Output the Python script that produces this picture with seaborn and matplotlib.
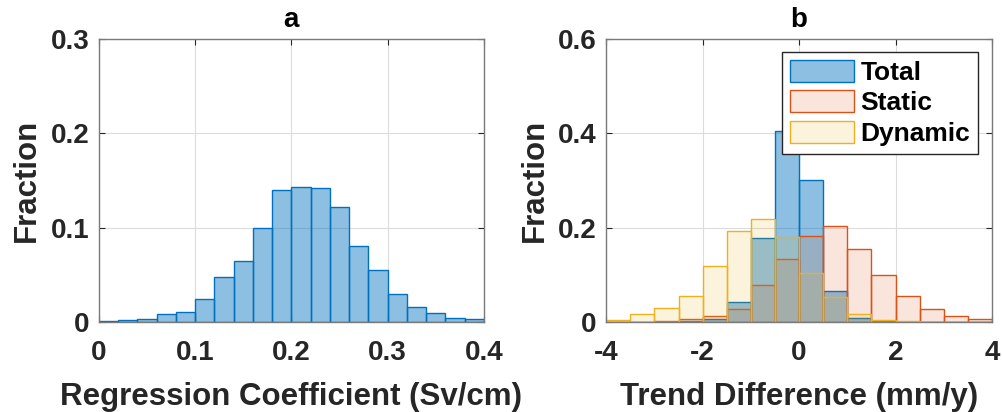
import numpy as np
import pandas as pd
import matplotlib
matplotlib.use("Agg")
import matplotlib.pyplot as plt
import seaborn as sns

# ---- data ----
coef_edges = [0.00, 0.02, 0.04, 0.06, 0.08, 0.10, 0.12, 0.14, 0.16, 0.18, 0.20,
              0.22, 0.24, 0.26, 0.28, 0.30, 0.32, 0.34, 0.36, 0.38, 0.40]
coef_frac = [0.001, 0.0014, 0.0025, 0.008, 0.0099, 0.0244, 0.048, 0.065, 0.100, 0.140,
             0.143, 0.142, 0.122, 0.0806, 0.055, 0.0297, 0.0152, 0.0088, 0.0035, 0.0025]

trend_edges = [-4.0, -3.5, -3.0, -2.5, -2.0, -1.5, -1.0, -0.5, 0.0,
               0.5, 1.0, 1.5, 2.0, 2.5, 3.0, 3.5, 4.0]
total_frac = [0.0, 0.0, 0.0, 0.001, 0.005, 0.041, 0.177, 0.405,
              0.300, 0.066, 0.007, 0.001, 0.0, 0.0, 0.0, 0.0]
static_frac = [0.0, 0.0, 0.002, 0.006, 0.012, 0.028, 0.078, 0.134,
               0.182, 0.204, 0.155, 0.100, 0.055, 0.028, 0.013, 0.005]
dynamic_frac = [0.004, 0.017, 0.030, 0.055, 0.119, 0.193, 0.218, 0.181,
                0.104, 0.052, 0.017, 0.004, 0.001, 0.0, 0.0, 0.0]

series_names = ["Total", "Static", "Dynamic"]
series_colors = ["#0072BD", "#D95319", "#EDB120"]
series_alpha = [0.45, 0.15, 0.15]

sns.set_theme(style="white")
plt.rcParams["font.family"] = ["Liberation Sans", "DejaVu Sans"]
plt.rcParams["font.weight"] = "bold"

TXT = "#262626"
fig = plt.figure(figsize=(10.02, 4.12), dpi=100)
ax1 = fig.add_axes([0.0988, 0.219, 0.384, 0.686])
ax2 = fig.add_axes([0.605, 0.219, 0.385, 0.686])

def centers(edges):
    e = np.asarray(edges, dtype=float)
    return (e[:-1] + e[1:]) / 2

df_a = pd.DataFrame({"x": centers(coef_edges), "w": coef_frac})
sns.histplot(data=df_a, x="x", weights="w", bins=coef_edges, ax=ax1,
             color=series_colors[0], alpha=series_alpha[0],
             edgecolor=series_colors[0], linewidth=1.0)

for name, vals, col, al in zip(series_names, [total_frac, static_frac, dynamic_frac],
                               series_colors, series_alpha):
    df_b = pd.DataFrame({"x": centers(trend_edges), "w": vals})
    sns.histplot(data=df_b, x="x", weights="w", bins=trend_edges, ax=ax2,
                 color=col, alpha=al, edgecolor=col, linewidth=1.0, label=name)

def style(ax, xlim, ylim, xticks, yticks, xlabel, title):
    ax.set_xlim(*xlim)
    ax.set_ylim(*ylim)
    ax.set_xticks(xticks)
    ax.set_yticks(yticks)
    ax.set_xticklabels([f"{t:g}" for t in xticks])
    ax.set_yticklabels([f"{t:g}" for t in yticks])
    ax.grid(True, color="#dcdcdc", linewidth=0.8)
    ax.set_axisbelow(True)
    ax.tick_params(direction="in", length=4, width=0.8, colors=TXT,
                   labelsize=20, top=True, right=True, bottom=True, left=True)
    ax.tick_params(axis="x", pad=13)
    ax.tick_params(axis="y", pad=7)
    for lab in ax.get_xticklabels() + ax.get_yticklabels():
        lab.set_fontweight("bold")
    for s in ax.spines.values():
        s.set_color("#7a7a7a")
        s.set_linewidth(1.0)
    ax.set_xlabel(xlabel, fontsize=22.5, fontweight="bold", color=TXT, labelpad=11.5)
    ax.set_ylabel("Fraction", fontsize=22.5, fontweight="bold", color=TXT, labelpad=6)
    ax.set_title(title, fontsize=20, fontweight="bold", color="black", pad=9)

style(ax1, (0, 0.4), (0, 0.3), [0, 0.1, 0.2, 0.3, 0.4], [0, 0.1, 0.2, 0.3],
      "Regression Coefficient (Sv/cm)", "a")
style(ax2, (-4, 4), (0, 0.6), [-4, -2, 0, 2, 4], [0, 0.2, 0.4, 0.6],
      "Trend Difference (mm/y)", "b")

leg = ax2.legend(loc="upper right", bbox_to_anchor=(0.964, 0.954), frameon=True,
                 fancybox=False, edgecolor="#262626", framealpha=1,
                 prop={"size": 19, "weight": "bold"}, handlelength=2.42,
                 handleheight=0.9, handletextpad=0.25, borderpad=0.3,
                 labelspacing=0.2, borderaxespad=0)
leg.get_frame().set_linewidth(1.0)
for t in leg.get_texts():
    t.set_color("black")

fig.savefig("out.png", dpi=100)
